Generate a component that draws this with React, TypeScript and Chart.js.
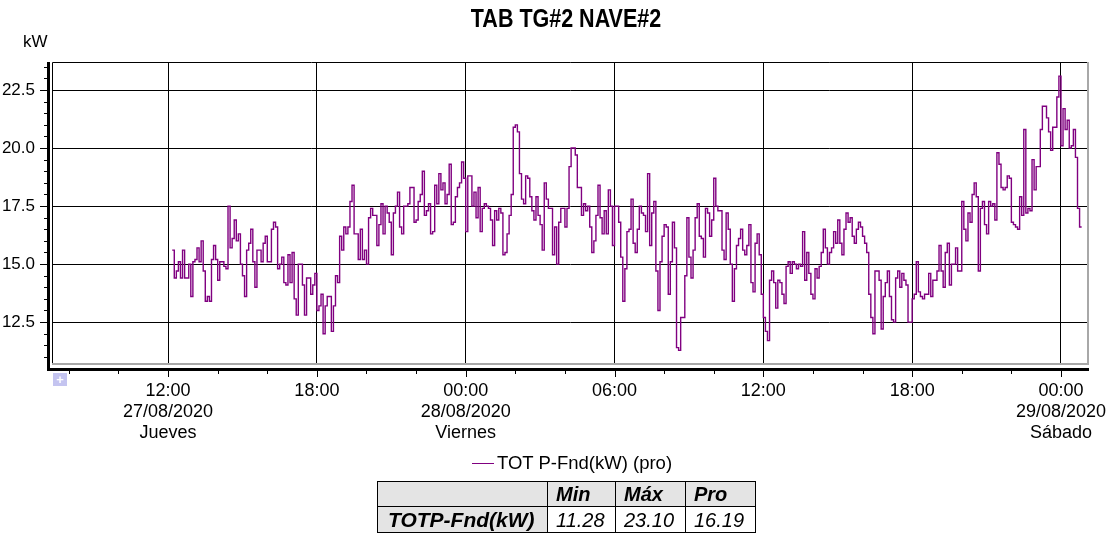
import React, { useEffect, useRef } from 'react';
import { Chart, registerables } from 'chart.js';

Chart.register(...registerables);

// ---------- text ----------
const TITLE = 'TAB TG#2 NAVE#2';
const Y_UNIT = 'kW';
const SERIES_LABEL = 'TOT P-Fnd(kW) (pro)';
const STATS_ROW_LABEL = 'TOTP-Fnd(kW)';
const STATS_HEADERS = ['Min', 'Máx', 'Pro'];
const STATS_VALUES = ['11.28', '23.10', '16.19'];

// x axis: hours counted from 00:00 27/08/2020
const DAY_DATES = ['27/08/2020', '28/08/2020', '29/08/2020'];
const DAY_NAMES = ['Jueves', 'Viernes', 'Sábado'];
const X_MIN = 7.32;
const X_MAX = 49.13;
const Y_MIN = 10.65;
const Y_MAX = 23.71;

// series: 5-minute averages starting 27/08 12:10
const START_HOUR = 12 + 10 / 60;
const STEP_MINUTES = 5;

const kwThuAfternoon = [15.6, 14.4, 14.7, 15.1, 14.4, 15.6, 14.4, 14.4, 15.0, 13.6, 15.1, 15.2, 15.7, 15.1, 16.0, 14.7, 13.4, 13.6, 13.4, 15.2, 15.8, 15.2, 14.3, 15.1, 15.1, 14.9, 14.8, 17.5, 15.7, 16.1, 16.9, 16.0, 16.3, 15.0, 14.5, 13.6, 15.6, 15.9, 16.5, 15.1, 14.0, 15.6, 15.6, 15.1, 15.9, 16.2, 15.1, 15.1, 16.5, 16.8, 16.6, 14.8];
const kwThuEvening = [15.0, 15.3, 14.2, 14.1, 15.4, 14.2, 15.5, 13.5, 12.8, 15.0, 15.0, 14.1, 12.8, 14.4, 14.4, 13.7, 14.1, 14.6, 13.0, 13.2, 13.7, 12.0, 13.2, 13.6, 13.6, 12.1, 13.2, 14.5, 14.2, 16.2, 15.6, 16.6, 16.3, 16.6, 17.7, 18.4, 16.3, 16.3, 15.2, 16.5, 15.2, 15.6, 15.0, 17.0, 17.4, 17.1, 17.1, 15.8, 16.7, 17.6, 16.3, 17.5, 17.2, 16.8, 15.4];
const kwThuNight = [17.2, 17.5, 18.1, 16.6, 16.3, 17.5, 17.5, 17.6, 18.3, 18.3, 16.8, 16.9, 17.7, 18.0, 19.0, 17.1, 17.3, 17.6, 16.3, 16.4, 18.4, 17.6, 18.9, 18.2, 18.5, 17.6, 18.0, 19.3, 16.7, 16.8, 17.9, 18.3, 18.5, 19.4, 18.7, 16.4, 18.8, 18.8, 17.5, 18.1, 17.0, 18.3, 16.4, 17.4, 17.6, 17.5, 17.4, 16.9, 15.8, 17.3, 16.9, 17.4, 17.2, 15.4, 15.5];
const kwFriEarly = [16.3, 17.1, 18.0, 20.9, 21.0, 20.7, 18.9, 17.8, 17.6, 18.8, 18.7, 17.9, 17.3, 16.9, 17.9, 17.1, 16.7, 15.6, 18.5, 17.8, 17.4, 17.4, 15.4, 16.6, 15.0, 16.8, 17.4, 17.4, 16.6, 17.4, 19.2, 20.0, 20.0, 19.7, 18.3, 18.3, 17.1, 17.6, 17.3, 17.5, 16.6, 15.5, 16.0, 17.1, 18.4, 17.0, 16.3, 17.3, 16.3, 18.2, 17.5, 15.8, 17.5, 17.5, 16.8, 15.3];
const kwFriMorning = [13.4, 14.8, 16.4, 16.5, 17.8, 15.9, 15.5, 16.5, 17.5, 17.2, 17.1, 16.4, 18.9, 15.8, 17.2, 17.7, 14.7, 13.0, 15.1, 16.2, 16.7, 16.6, 13.7, 15.1, 16.8, 15.7, 11.4, 11.28, 12.7, 12.7, 14.5, 17.0, 15.3, 14.4, 15.6, 17.0, 17.6, 16.2, 16.1, 15.3, 17.4, 17.2, 16.2, 16.9, 18.7, 17.5, 17.3, 17.3, 15.6, 15.2, 17.2, 16.5, 15.0, 13.4, 14.8, 15.8];
const kwFriMidday = [16.1, 16.5, 15.6, 15.4, 15.8, 16.7, 14.2, 13.8, 15.9, 16.3, 15.4, 13.7, 12.7, 12.1, 11.7, 14.3, 14.7, 14.2, 13.1, 14.3, 14.2, 13.7, 13.3, 14.9, 15.1, 14.6, 15.1, 15.0, 14.8, 15.0, 14.9, 16.4, 14.3, 15.5, 14.6, 13.7, 13.5, 14.8, 14.4, 14.9, 15.5, 16.5, 15.7, 15.0, 15.5, 15.7, 16.4, 15.9, 16.9, 15.9, 15.4, 16.5, 17.2, 16.8, 17.0];
const kwFriEvening = [16.2, 15.9, 16.5, 16.8, 16.6, 16.2, 15.9, 15.5, 13.7, 12.7, 12.0, 14.7, 14.7, 14.3, 12.2, 13.6, 14.2, 14.7, 13.6, 12.6, 12.5, 14.4, 14.7, 14.0, 14.6, 14.3, 14.1, 12.5, 12.5, 13.5, 13.7, 15.1, 13.8, 13.6, 13.5, 13.7, 13.7, 14.6, 13.6, 14.3, 14.3, 14.7, 15.8, 14.7, 14.0, 15.5, 15.9, 14.1, 15.0, 15.0, 15.7, 14.7, 14.7, 17.7];
const kwFriNight = [16.5, 16.0, 17.2, 16.8, 18.0, 18.5, 17.9, 14.7, 17.4, 17.7, 16.7, 16.3, 17.7, 17.5, 17.6, 16.9, 19.8, 19.3, 18.3, 18.2, 18.3, 18.8, 18.7, 16.8, 16.7, 16.6, 16.5, 17.9, 17.1, 20.8, 17.2, 17.4, 17.3, 19.5, 18.2, 19.2, 19.2, 20.8, 21.8, 21.8, 21.3, 20.7, 19.9, 20.9, 20.9, 22.2, 23.1, 20.1, 21.7, 20.8, 21.2, 20.0, 20.1, 20.8, 19.6, 17.4, 16.6];

const SERIES_COLOR = '#800080';
const FONT = "'Liberation Sans', Arial, Helvetica, sans-serif";

function pad2(n: number) {
  return n < 10 ? '0' + n : String(n);
}

const decoPlugin = {
  id: 'deco',
  afterDraw(chart: any) {
    const { ctx, chartArea: a, scales } = chart;
    const x = scales.x;
    const y = scales.y;
    ctx.save();
    // sunken frame
    ctx.lineWidth = 1;
    ctx.strokeStyle = '#000';
    ctx.beginPath();
    ctx.moveTo(a.left + 0.5, a.bottom);
    ctx.lineTo(a.left + 0.5, a.top + 0.5);
    ctx.lineTo(a.right, a.top + 0.5);
    ctx.stroke();
    ctx.strokeStyle = '#a8a8a8';
    ctx.lineWidth = 2;
    ctx.beginPath();
    ctx.moveTo(a.left, a.bottom - 1);
    ctx.lineTo(a.right - 1, a.bottom - 1);
    ctx.lineTo(a.right - 1, a.top);
    ctx.stroke();
    // thick axis lines
    ctx.fillStyle = '#000';
    ctx.fillRect(a.left - 5, a.top, 3, a.bottom + 6 - a.top);
    ctx.fillRect(a.left - 5, a.bottom + 3, a.right - a.left + 5, 3);
    // y ticks every 0.5
    ctx.lineWidth = 1;
    ctx.strokeStyle = '#000';
    for (let v = Math.ceil(y.min * 2) / 2; v <= y.max; v += 0.5) {
      const py = Math.round(y.getPixelForValue(v)) + 0.5;
      const major = Math.abs(v / 2.5 - Math.round(v / 2.5)) < 1e-6;
      ctx.beginPath();
      ctx.moveTo(a.left - (major ? 12 : 8), py);
      ctx.lineTo(a.left - 4, py);
      ctx.stroke();
    }
    // x ticks every 2 h
    x.ticks.forEach((t: any) => {
      const px = Math.round(x.getPixelForValue(t.value)) + 0.5;
      const major = t.value % 6 === 0;
      ctx.beginPath();
      ctx.moveTo(px, a.bottom + 5);
      ctx.lineTo(px, a.bottom + (major ? 12 : 9));
      ctx.stroke();
    });
    ctx.restore();
  },
};

export default function App() {
  const canvasRef = useRef<HTMLCanvasElement | null>(null);

  useEffect(() => {
    document.body.style.margin = '0';
    const all = [
      ...kwThuAfternoon,
      ...kwThuEvening,
      ...kwThuNight,
      ...kwFriEarly,
      ...kwFriMorning,
      ...kwFriMidday,
      ...kwFriEvening,
      ...kwFriNight,
    ];
    const pts = all.map((v, i) => ({ x: START_HOUR + (i * STEP_MINUTES) / 60, y: v }));
    pts.push({ x: START_HOUR + (all.length * STEP_MINUTES) / 60, y: all[all.length - 1] });
    const firstLabelled = Math.ceil(X_MIN / 6) * 6;

    const chart = new Chart(canvasRef.current as HTMLCanvasElement, {
      type: 'line',
      data: {
        datasets: [
          {
            label: SERIES_LABEL,
            data: pts,
            borderColor: SERIES_COLOR,
            borderWidth: 1.4,
            pointRadius: 0,
            stepped: 'before',
            fill: false,
          },
        ],
      },
      options: {
        animation: false,
        responsive: false,
        maintainAspectRatio: false,
        layout: { padding: { top: 62, right: 29, left: 0, bottom: 0 } },
        plugins: {
          legend: { display: false },
          title: { display: false },
          tooltip: { enabled: false },
        },
        scales: {
          x: {
            type: 'linear',
            min: X_MIN,
            max: X_MAX,
            afterFit: (s: any) => {
              s.height = 170;
              s.paddingLeft = 0;
              s.paddingRight = 0;
            },
            border: { display: false },
            grid: {
              drawTicks: false,
              lineWidth: 1,
              color: (c: any) => (c.tick && c.tick.value % 6 === 0 ? '#000' : 'rgba(0,0,0,0)'),
            },
            ticks: {
              stepSize: 2,
              includeBounds: false,
              autoSkip: false,
              maxRotation: 0,
              minRotation: 0,
              padding: 16,
              color: '#000',
              font: { family: FONT, size: 18, lineHeight: 21 / 18 },
              callback: (val: any) => {
                const h = Number(val);
                if (h % 6 !== 0) return '';
                const d = Math.floor(h / 24);
                const time = pad2(h % 24) + ':00';
                if (h % 24 === 0 || h === firstLabelled) return [time, DAY_DATES[d], DAY_NAMES[d]];
                return time;
              },
            },
          },
          y: {
            type: 'linear',
            min: Y_MIN,
            max: Y_MAX,
            afterFit: (s: any) => {
              s.width = 52;
            },
            border: { display: false },
            grid: { drawTicks: false, color: '#000', lineWidth: 1 },
            ticks: {
              stepSize: 2.5,
              includeBounds: false,
              padding: 17,
              color: '#000',
              font: { family: FONT, size: 17 },
              callback: (val: any) => Number(val).toFixed(1),
            },
          },
        },
      },
      plugins: [decoPlugin],
    } as any);
    return () => chart.destroy();
  }, []);

  const cellBase: React.CSSProperties = {
    border: '1px solid #000',
    padding: '0 0 0 8px',
    fontFamily: FONT,
    fontSize: 20,
    fontStyle: 'italic',
    textAlign: 'left',
    lineHeight: '24px',
    whiteSpace: 'nowrap',
  };

  return (
    <div style={{ position: 'fixed', left: 0, top: 0, width: 1118, height: 535, background: '#fff', overflow: 'hidden' }}>
      <canvas ref={canvasRef} width={1118} height={535} style={{ position: 'absolute', left: 0, top: 0, display: 'block' }} />
      <div
        style={{
          position: 'absolute',
          left: 566,
          top: 4,
          transform: 'translateX(-50%) scaleX(0.86)',
          fontFamily: FONT,
          fontWeight: 'bold',
          fontSize: 25,
          lineHeight: '28px',
          whiteSpace: 'nowrap',
          color: '#000',
        }}
      >
        {TITLE}
      </div>
      <div style={{ position: 'absolute', left: 23, top: 32, fontFamily: FONT, fontSize: 17, lineHeight: '20px', color: '#000' }}>{Y_UNIT}</div>
      <div
        style={{
          position: 'absolute',
          left: 53,
          top: 373,
          width: 14,
          height: 13,
          background: '#c4c4f0',
          color: '#fff',
          fontFamily: FONT,
          fontWeight: 'bold',
          fontSize: 13,
          lineHeight: '13px',
          textAlign: 'center',
        }}
      >
        +
      </div>
      <div style={{ position: 'absolute', left: 472, top: 452, display: 'flex', alignItems: 'center', height: 22 }}>
        <div style={{ width: 22, height: 1, background: SERIES_COLOR, marginRight: 3 }} />
        <span style={{ fontFamily: FONT, fontSize: 18.5, color: '#000', whiteSpace: 'nowrap' }}>{SERIES_LABEL}</span>
      </div>
      <table
        style={{
          position: 'absolute',
          left: 377,
          top: 481,
          borderCollapse: 'collapse',
          tableLayout: 'fixed',
          width: 378,
        }}
      >
        <colgroup>
          <col style={{ width: 170 }} />
          <col style={{ width: 68 }} />
          <col style={{ width: 70 }} />
          <col style={{ width: 70 }} />
        </colgroup>
        <tbody>
          <tr style={{ height: 25 }}>
            <td style={{ ...cellBase, background: '#e4e4e4' }} />
            {STATS_HEADERS.map((h) => (
              <td key={h} style={{ ...cellBase, background: '#e4e4e4', fontWeight: 'bold' }}>
                {h}
              </td>
            ))}
          </tr>
          <tr style={{ height: 26 }}>
            <td style={{ ...cellBase, background: '#e4e4e4', fontWeight: 'bold', paddingLeft: 10, fontSize: 21 }}>{STATS_ROW_LABEL}</td>
            {STATS_VALUES.map((v, i) => (
              <td key={i} style={{ ...cellBase, background: '#fff' }}>
                {v}
              </td>
            ))}
          </tr>
        </tbody>
      </table>
    </div>
  );
}
